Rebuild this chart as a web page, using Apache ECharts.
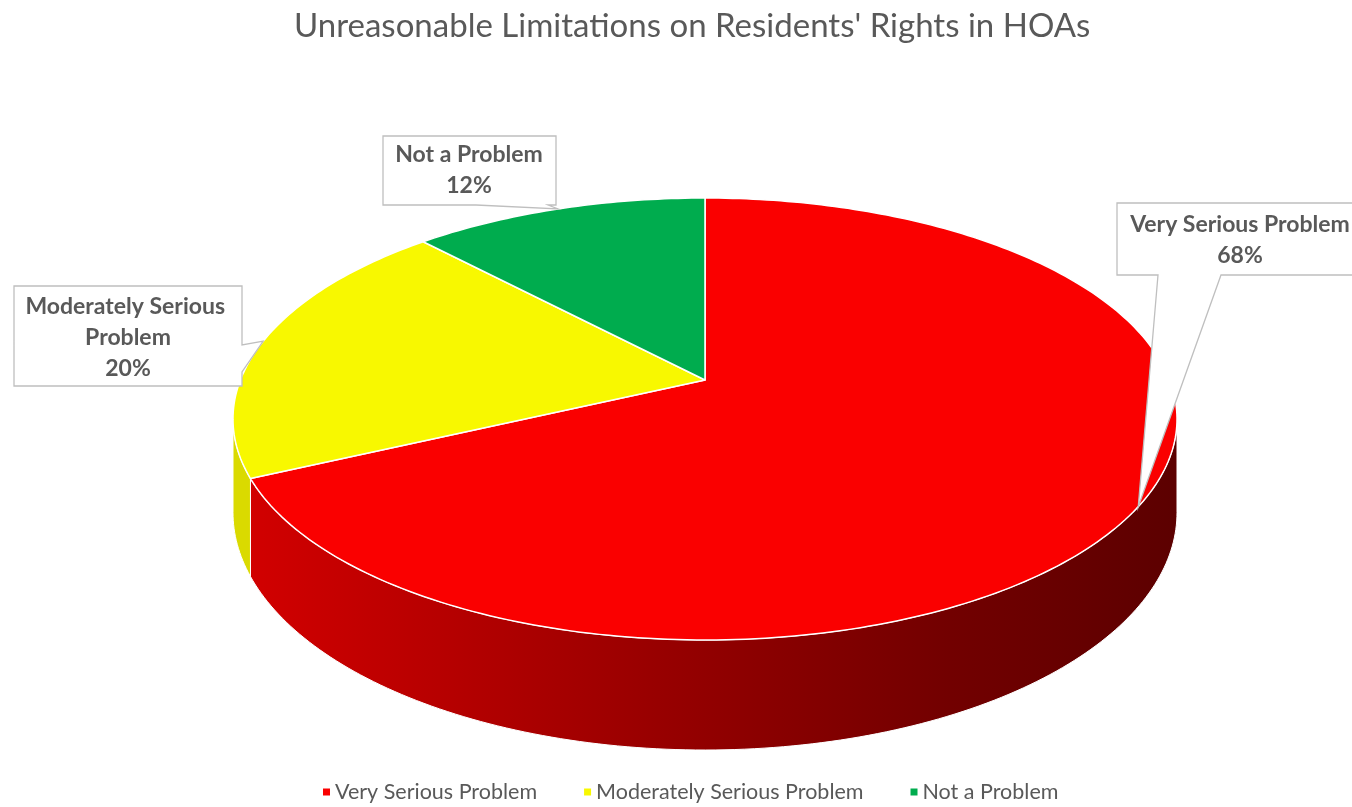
<!DOCTYPE html>
<html>
<head>
<meta charset="utf-8">
<script src="https://cdn.jsdelivr.net/npm/echarts@6/dist/echarts.min.js"></script>
<style>
  html, body { margin: 0; padding: 0; background: #fff; }
  #main { width: 1352px; height: 807px; }
</style>
</head>
<body>
<div id="main"></div>
<script>
  const categories = ['Very Serious Problem', 'Moderately Serious Problem', 'Not a Problem'];
  const values = [68, 20, 12];

  const topColors = ['#FA0000', '#F8F800', '#00AC4E'];
  const textColor = '#595959';
  const fontFam = 'Lato, "Liberation Sans", sans-serif';

  // 3d pie geometry (tilted disc with a bit of perspective)
  const CX = 705, CY = 380, RX = 464.6, RY = 214.1, K = 0.1765, H = 90.6;
  // callout boxes, positioned by hand; the pointer tip comes from the slice angle
  const callouts = [
    { x: 1117, y: 203, w: 262, h: 72, side: 'bottom', from: 1221, to: 1158, cx: 1240, cy: 240 },
    { x: 14, y: 286, w: 228, h: 100, side: 'right', from: 345, to: 372, cx: 128, cy: 338, width: 226 },
    { x: 383, y: 136, w: 173, h: 69, side: 'bottom', from: 548, to: 476, cx: 469, cy: 170 }
  ];

  const total = values.reduce((a, b) => a + b, 0);
  const starts = [];
  values.reduce((acc, v, i) => { starts[i] = acc; return acc + v; }, 0);

  function proj(deg, drop) {
    const p = deg * Math.PI / 180;
    const u = Math.sin(p), v = -Math.cos(p);
    const s = 1 / (1 - K * v);
    return [CX + RX * u * s, CY + RY * v * s + (drop ? H * s : 0)];
  }

  function arc(a0, a1, drop) {
    const pts = [];
    const n = Math.max(2, Math.ceil(Math.abs(a1 - a0)));
    for (let j = 0; j <= n; j++) pts.push(proj(a0 + (a1 - a0) * j / n, drop));
    return pts;
  }

  const visLo = 180 - Math.acos(K) * 180 / Math.PI;   // ~100 deg
  const visHi = 180 + Math.acos(K) * 180 / Math.PI;   // ~260 deg

  const sideFills = [
    new echarts.graphic.LinearGradient(233, 0, 1177, 0, [
      { offset: 0, color: '#D40000' },
      { offset: 0.45, color: '#980000' },
      { offset: 0.75, color: '#730000' },
      { offset: 1, color: '#5C0000' }
    ], true),
    '#DADA00',
    '#008A3C'
  ];

  function calloutPoints(c, tip) {
    const x0 = c.x, y0 = c.y, x1 = c.x + c.w, y1 = c.y + c.h;
    if (c.side === 'bottom') {
      return [[x0, y0], [x1, y0], [x1, y1], [c.from, y1], tip, [c.to, y1], [x0, y1]];
    }
    return [[x0, y0], [x1, y0], [x1, c.from], tip, [x1, c.to], [x1, y1], [x0, y1]];
  }

  function makeRender(i) {
    return function (params, api) {
      const a0 = starts[i] / total * 360;
      const a1 = (starts[i] + values[i]) / total * 360;
      const children = [];

      const lo = Math.max(a0, visLo), hi = Math.min(a1, visHi);
      if (lo < hi) {
        const topEdge = arc(lo, hi, false);
        const botEdge = arc(lo, hi, true).reverse();
        children.push({
          type: 'polygon', z2: 1,
          shape: { points: topEdge.concat(botEdge) },
          style: { fill: sideFills[i], stroke: '#fff', lineWidth: 1 }
        });
      }

      children.push({
        type: 'polygon', z2: 10,
        shape: { points: [[CX, CY]].concat(arc(a0, a1, false)) },
        style: { fill: topColors[i], stroke: '#fff', lineWidth: 1.5, lineJoin: 'round' }
      });

      const c = callouts[i];
      const tip = proj((a0 + a1) / 2, false);
      children.push({
        type: 'polygon', z2: 20,
        shape: { points: calloutPoints(c, tip) },
        style: { fill: '#fff', stroke: '#BFBFBF', lineWidth: 1.3 }
      });
      children.push({
        type: 'text', z2: 21,
        style: {
          text: categories[i] + '\n' + values[i] + '%',
          x: c.cx, y: c.cy,
          align: 'center', verticalAlign: 'middle',
          width: c.width, overflow: c.width ? 'break' : 'none',
          font: 'bold 23px ' + fontFam,
          lineHeight: 31,
          fill: textColor
        }
      });
      return { type: 'group', children: children };
    };
  }

  const chart = echarts.init(document.getElementById('main'));
  chart.setOption({
    animation: false,
    title: {
      text: 'Unreasonable Limitations on Residents\' Rights in HOAs',
      left: 289,
      top: 5,
      textStyle: { fontFamily: fontFam, fontSize: 33, fontWeight: 'normal', color: textColor }
    },
    legend: {
      bottom: -1,
      left: 318,
      icon: 'rect',
      itemWidth: 7,
      itemHeight: 7,
      itemGap: 47,
      selectedMode: false,
      textStyle: { fontFamily: fontFam, fontSize: 21.5, color: textColor },
      data: categories
    },
    series: categories.map((name, i) => ({
      type: 'custom',
      name: name,
      coordinateSystem: 'none',
      itemStyle: { color: topColors[i] },
      data: [values[i]],
      renderItem: makeRender(i)
    }))
  });
</script>
</body>
</html>
